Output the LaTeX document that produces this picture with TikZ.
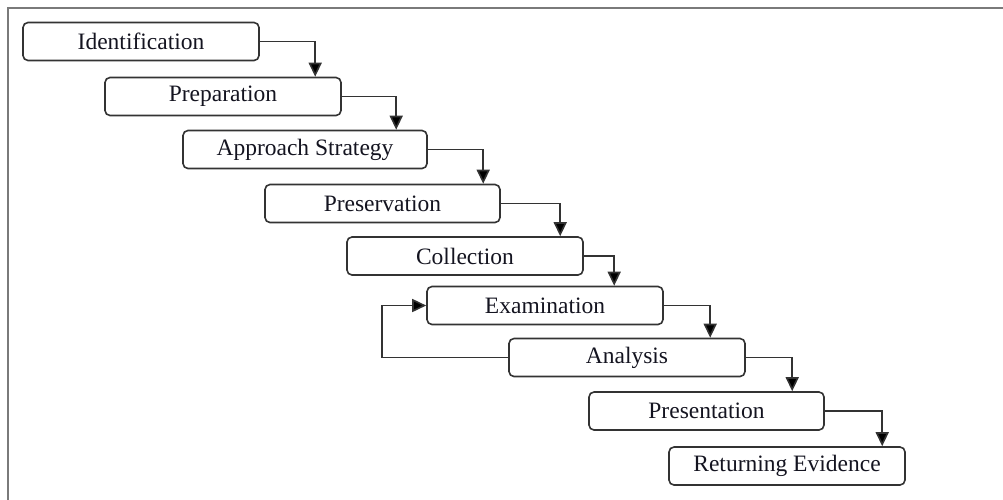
\documentclass[tikz,border=0pt]{standalone}
\usepackage{fontspec}
\setmainfont{Liberation Serif}
\usetikzlibrary{arrows.meta}
\definecolor{framegray}{HTML}{7A7A7A}
\definecolor{boxline}{HTML}{333333}
\definecolor{labeltext}{HTML}{141420}
\begin{document}
\begin{tikzpicture}[x=1pt,y=-1pt,
  stage/.style={draw=boxline, line width=1.6pt, rounded corners=5pt,
    minimum width=236pt, minimum height=38pt, inner sep=0pt,
    text=labeltext, font=\fontsize{23.5}{26}\selectfont},
  flow/.style={draw=boxline, line width=1.6pt,
    -{Triangle[length=14pt,width=13pt,fill=black]}}]
\useasboundingbox (0,0) rectangle (1003,499);
\begin{scope}
\clip (0,0) rectangle (1003,499);
\draw[framegray, line width=1.8pt] (8,8) rectangle (1020,520);
\end{scope}
% stages of the process
\node[stage] (id) at (141,41.5) {Identification};
\node[stage] (pr) at (223,96.5) {Preparation};
\node[stage, minimum width=244pt] (ap) at (305,149.5) {Approach Strategy};
\node[stage, minimum width=235pt] (ps) at (382.5,203.5) {Preservation};
\node[stage] (co) at (465,256) {Collection};
\node[stage] (ex) at (545,305.5) {Examination};
\node[stage] (an) at (627,357.5) {Analysis};
\node[stage, minimum width=235pt] (pt) at (706.5,411) {Presentation};
\node[stage] (re) at (787,466) {Returning Evidence};
% step-down connectors
\draw[flow] (id.east) -| ([xshift=211pt]pr.north west);
\draw[flow] (pr.east) -| ([xshift=214pt]ap.north west);
\draw[flow] (ap.east) -| ([xshift=219pt]ps.north west);
\draw[flow] (ps.east) -| ([xshift=214pt]co.north west);
\draw[flow] (co.east) -| ([xshift=188pt]ex.north west);
\draw[flow] (ex.east) -| ([xshift=202pt]an.north west);
\draw[flow] (an.east) -| ([xshift=204pt]pt.north west);
\draw[flow] (pt.east) -| ([xshift=214pt]re.north west);
% feedback loop from analysis back to examination
\draw[flow] (an.west) -- ++(-126pt,0) |- (ex.west);
\end{tikzpicture}
\end{document}
